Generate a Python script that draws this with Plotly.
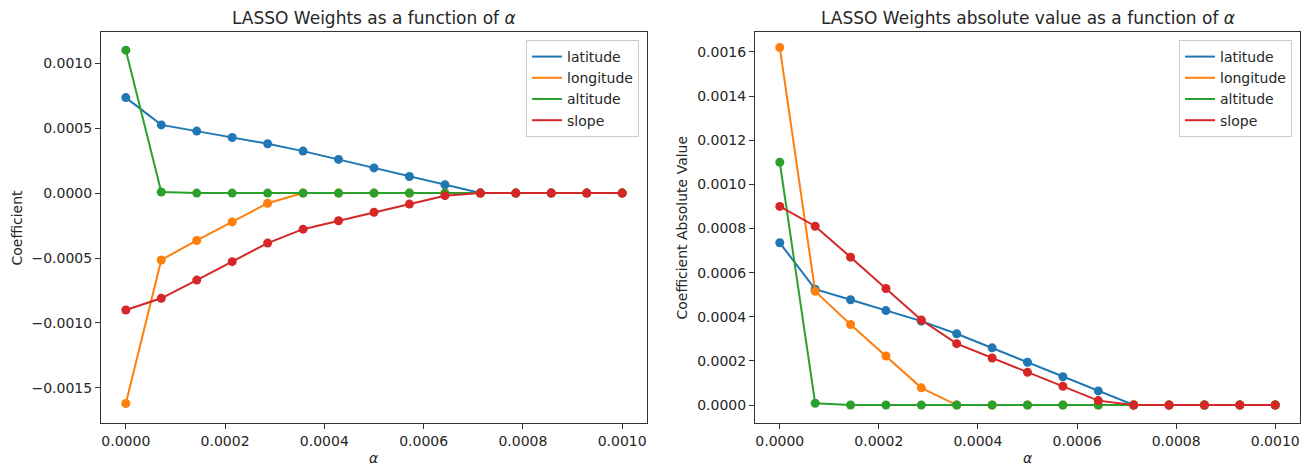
import numpy as np
import plotly.graph_objects as go

alphas = [0.0, 0.0000714, 0.0001429, 0.0002143, 0.0002857, 0.0003571, 0.0004286,
          0.0005, 0.0005714, 0.0006429, 0.0007143, 0.0007857, 0.0008571, 0.0009286, 0.001]
latitude = [0.000735, 0.000525, 0.000477, 0.000428, 0.000380, 0.000323, 0.000259,
            0.000194, 0.000128, 0.000064, 0.0, 0.0, 0.0, 0.0, 0.0]
longitude = [-0.00162, -0.000515, -0.000365, -0.000222, -0.000078, 0.0, 0.0,
             0.0, 0.0, 0.0, 0.0, 0.0, 0.0, 0.0, 0.0]
altitude = [0.0011, 0.000008, 0.0, 0.0, 0.0, 0.0, 0.0,
            0.0, 0.0, 0.0, 0.0, 0.0, 0.0, 0.0, 0.0]
slope = [-0.0009, -0.00081, -0.00067, -0.000528, -0.000385, -0.000278, -0.000213,
         -0.000148, -0.000085, -0.00002, 0.0, 0.0, 0.0, 0.0, 0.0]

series_names = ["latitude", "longitude", "altitude", "slope"]
series_values = [latitude, longitude, altitude, slope]
colors = ["#1f77b4", "#ff7f0e", "#2ca02c", "#d62728"]

x_ticks = [0.0, 0.0002, 0.0004, 0.0006, 0.0008, 0.0010]
y_ticks_left = [-0.0015, -0.0010, -0.0005, 0.0, 0.0005, 0.0010]
y_ticks_right = [0.0, 0.0002, 0.0004, 0.0006, 0.0008, 0.0010, 0.0012, 0.0014, 0.0016]

W, H = 1313, 467
FONT = "DejaVu Sans"
TXT = "#262626"

fig = go.Figure()

for panel, (xa, ya, leg) in enumerate([("x", "y", "legend"), ("x2", "y2", "legend2")]):
    for name, vals, col in zip(series_names, series_values, colors):
        v = np.array(vals) if panel == 0 else np.abs(np.array(vals))
        fig.add_trace(go.Scatter(x=alphas, y=v, mode="lines", name=name,
                                 line=dict(color=col, width=2), xaxis=xa, yaxis=ya,
                                 legend=leg, showlegend=True))
        fig.add_trace(go.Scatter(x=alphas, y=v, mode="markers", name=name,
                                 marker=dict(color=col, size=9), xaxis=xa, yaxis=ya,
                                 showlegend=False))

def px_x(p):
    return p / W

def px_y(p):
    return 1 - p / H

axis_common = dict(showline=True, linecolor="#333333", linewidth=1, mirror=True,
                   ticks="outside", ticklen=5, tickcolor="#333333", showgrid=False,
                   zeroline=False, tickfont=dict(family=FONT, size=14, color=TXT),
                   tickformat=".4f")

legend_common = dict(xanchor="right", yanchor="top", bgcolor="rgba(255,255,255,0.8)",
                     bordercolor="#cccccc", borderwidth=1,
                     font=dict(family=FONT, size=14, color=TXT), tracegroupgap=0)

fig.update_layout(
    width=W, height=H,
    margin=dict(l=0, r=0, t=0, b=0),
    paper_bgcolor="white", plot_bgcolor="white",
    font=dict(family=FONT, color=TXT),
    xaxis=dict(domain=[px_x(101), px_x(647)], range=[-0.00005, 0.00105],
               tickvals=x_ticks, anchor="y", **axis_common),
    yaxis=dict(domain=[px_y(423), px_y(32)], range=[-0.00177, 0.00124],
               tickvals=y_ticks_left, anchor="x", **axis_common),
    xaxis2=dict(domain=[px_x(755), px_x(1300)], range=[-0.00005, 0.00105],
                tickvals=x_ticks, anchor="y2", **axis_common),
    yaxis2=dict(domain=[px_y(423), px_y(32)], range=[-0.0000814, 0.00169],
                tickvals=y_ticks_right, anchor="x2", **axis_common),
    legend=dict(x=px_x(639), y=px_y(40), **legend_common),
    legend2=dict(x=px_x(1292), y=px_y(40), **legend_common),
    annotations=[
        dict(text="LASSO Weights as a function of <i>α</i>", x=px_x(374), y=px_y(18),
             xref="paper", yref="paper", showarrow=False, xanchor="center", yanchor="middle",
             font=dict(family=FONT, size=17, color=TXT)),
        dict(text="LASSO Weights absolute value as a function of <i>α</i>", x=px_x(1027.5),
             y=px_y(18), xref="paper", yref="paper", showarrow=False, xanchor="center",
             yanchor="middle", font=dict(family=FONT, size=17, color=TXT)),
        dict(text="<i>α</i>", x=px_x(374), y=px_y(458), xref="paper", yref="paper",
             showarrow=False, xanchor="center", yanchor="middle",
             font=dict(family=FONT, size=14, color=TXT)),
        dict(text="<i>α</i>", x=px_x(1027.5), y=px_y(458), xref="paper", yref="paper",
             showarrow=False, xanchor="center", yanchor="middle",
             font=dict(family=FONT, size=14, color=TXT)),
        dict(text="Coefficient", x=px_x(16), y=px_y(227.5), xref="paper", yref="paper",
             showarrow=False, xanchor="center", yanchor="middle", textangle=-90,
             font=dict(family=FONT, size=14, color=TXT)),
        dict(text="Coefficient Absolute Value", x=px_x(681), y=px_y(227.5), xref="paper",
             yref="paper", showarrow=False, xanchor="center", yanchor="middle", textangle=-90,
             font=dict(family=FONT, size=14, color=TXT)),
    ],
)

fig.write_html("out.html")
